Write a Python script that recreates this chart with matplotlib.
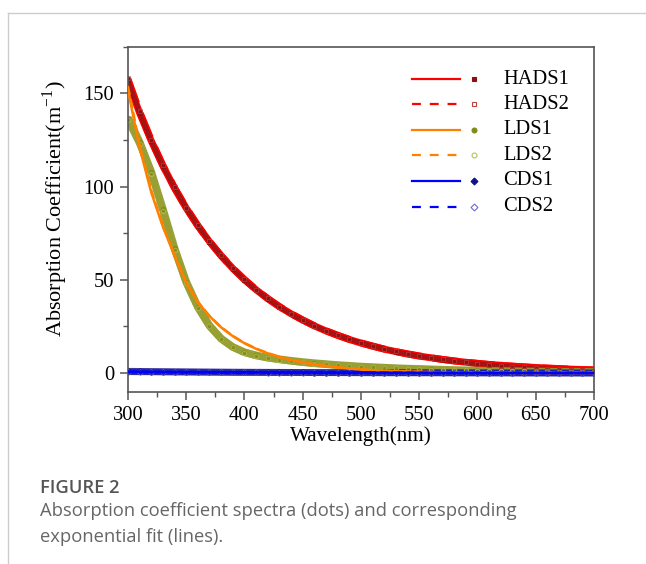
import matplotlib
matplotlib.use("Agg")
import matplotlib.pyplot as plt
from matplotlib.lines import Line2D
from matplotlib.ticker import MultipleLocator

# ---------------- data ----------------
wavelength = [300, 310, 320, 330, 340, 350, 360, 370, 380, 390,
              400, 410, 420, 430, 440, 450, 460, 470, 480, 490,
              500, 510, 520, 530, 540, 550, 560, 570, 580, 590,
              600, 610, 620, 630, 640, 650, 660, 670, 680, 690, 700]

hads1_data = [157.0, 139.5, 124.5, 111.0, 99.5, 88.5, 79.0, 70.5, 63.0, 56.0,
              50.0, 44.5, 39.8, 35.5, 31.6, 28.3, 25.3, 22.6, 20.2, 18.1,
              16.2, 14.5, 12.9, 11.5, 10.2, 9.1, 8.1, 7.2, 6.4, 5.7,
              5.0, 4.4, 3.9, 3.4, 3.0, 2.6, 2.3, 2.0, 1.7, 1.5, 1.2]
hads2_data = [158.5, 140.5, 125.0, 111.5, 99.8, 88.8, 79.3, 70.8, 63.2, 56.3,
              50.2, 44.7, 40.0, 35.7, 31.8, 28.4, 25.4, 22.7, 20.3, 18.2,
              16.3, 14.6, 13.0, 11.6, 10.3, 9.2, 8.2, 7.3, 6.5, 5.8,
              5.1, 4.5, 4.0, 3.5, 3.1, 2.7, 2.3, 2.0, 1.7, 1.5, 1.3]
hads1_fit = [156.5, 139.6, 124.6, 111.2, 99.2, 88.5, 79.0, 70.5, 62.9, 56.1,
             50.1, 44.7, 39.9, 35.6, 31.8, 28.4, 25.3, 22.6, 20.2, 18.0,
             16.1, 14.4, 12.8, 11.5, 10.2, 9.1, 8.2, 7.3, 6.5, 5.8,
             5.2, 4.6, 4.2, 3.7, 3.3, 3.0, 2.7, 2.4, 2.1, 1.9, 1.7]
hads2_fit = [157.8, 140.3, 125.0, 111.4, 99.4, 88.7, 79.1, 70.6, 63.0, 56.2,
             50.2, 44.8, 40.0, 35.7, 31.9, 28.5, 25.4, 22.7, 20.3, 18.1,
             16.2, 14.5, 12.9, 11.5, 10.3, 9.2, 8.2, 7.3, 6.5, 5.8,
             5.2, 4.6, 4.1, 3.7, 3.3, 2.9, 2.6, 2.3, 2.1, 1.8, 1.6]

lds1_data = [137.0, 124.0, 108.0, 88.0, 67.0, 49.0, 35.5, 25.5, 18.5, 14.0,
             11.2, 9.5, 8.3, 7.4, 6.6, 5.9, 5.3, 4.8, 4.3, 3.9,
             3.5, 3.2, 2.9, 2.6, 2.4, 2.2, 2.0, 1.8, 1.6, 1.5,
             1.4, 1.3, 1.2, 1.1, 1.0, 0.9, 0.9, 0.8, 0.8, 0.7, 0.7]
lds2_data = [135.5, 123.0, 107.0, 87.0, 66.0, 48.5, 35.0, 25.0, 18.2, 13.8,
             11.0, 9.3, 8.1, 7.2, 6.4, 5.7, 5.1, 4.6, 4.1, 3.7,
             3.3, 3.0, 2.7, 2.5, 2.3, 2.1, 1.9, 1.7, 1.5, 1.4,
             1.3, 1.2, 1.1, 1.0, 0.9, 0.8, 0.8, 0.7, 0.7, 0.6, 0.6]
lds1_fit = [152.0, 121.0, 97.0, 78.5, 63.0, 48.5, 38.0, 30.5, 24.5, 19.8,
            16.0, 13.0, 10.6, 8.6, 7.0, 5.7, 4.6, 3.7, 3.0, 2.4,
            1.9, 1.5, 1.2, 1.0, 0.8, 0.6, 0.5, 0.4, 0.3, 0.3,
            0.2, 0.2, 0.2, 0.1, 0.1, 0.1, 0.1, 0.1, 0.1, 0.1, 0.1]
lds2_fit = [154.0, 122.5, 98.0, 79.0, 63.3, 48.7, 38.2, 30.6, 24.6, 19.9,
            16.1, 13.1, 10.7, 8.7, 7.1, 5.8, 4.7, 3.8, 3.1, 2.5,
            2.0, 1.6, 1.3, 1.0, 0.8, 0.7, 0.5, 0.4, 0.3, 0.3,
            0.2, 0.2, 0.2, 0.1, 0.1, 0.1, 0.1, 0.1, 0.1, 0.1, 0.1]

cds1_data = [0.9, 0.85, 0.8, 0.75, 0.7, 0.65, 0.6, 0.55, 0.5, 0.45,
             0.42, 0.4, 0.37, 0.35, 0.32, 0.3, 0.28, 0.26, 0.24, 0.22,
             0.2, 0.18, 0.17, 0.16, 0.15, 0.14, 0.13, 0.12, 0.11, 0.1,
             0.09, 0.08, 0.07, 0.06, 0.05, 0.04, 0.04, 0.03, 0.03, 0.02, 0.02]
cds2_data = [0.6, 0.57, 0.54, 0.51, 0.48, 0.45, 0.42, 0.4, 0.37, 0.35,
             0.33, 0.31, 0.29, 0.27, 0.25, 0.23, 0.21, 0.2, 0.19, 0.18,
             0.16, 0.15, 0.14, 0.13, 0.12, 0.11, 0.1, 0.09, 0.08, 0.07,
             0.06, 0.05, 0.05, 0.04, 0.04, 0.03, 0.03, 0.02, 0.02, 0.01, 0.01]
cds1_fit = [0.75, 0.71, 0.67, 0.63, 0.6, 0.56, 0.53, 0.5, 0.47, 0.44,
            0.41, 0.39, 0.36, 0.34, 0.32, 0.3, 0.28, 0.26, 0.24, 0.22,
            0.21, 0.19, 0.18, 0.17, 0.15, 0.14, 0.13, 0.12, 0.11, 0.1,
            0.09, 0.09, 0.08, 0.07, 0.07, 0.06, 0.06, 0.05, 0.05, 0.04, 0.04]
cds2_fit = [0.55, 0.52, 0.5, 0.47, 0.44, 0.42, 0.4, 0.38, 0.36, 0.34,
            0.32, 0.3, 0.28, 0.27, 0.25, 0.24, 0.22, 0.21, 0.2, 0.19,
            0.18, 0.17, 0.16, 0.15, 0.14, 0.13, 0.12, 0.11, 0.1, 0.1,
            0.09, 0.09, 0.08, 0.08, 0.07, 0.07, 0.06, 0.06, 0.05, 0.05, 0.05]

labels = ["HADS1", "HADS2", "LDS1", "LDS2", "CDS1", "CDS2"]
x_ticks = [300, 350, 400, 450, 500, 550, 600, 650, 700]
y_ticks = [0, 50, 100, 150]

# ---------------- style ----------------
plt.rcParams['font.family'] = ['Liberation Serif', 'DejaVu Serif']
plt.rcParams['mathtext.fontset'] = 'stix'

fig = plt.figure(figsize=(6.46, 5.64), dpi=100)
ax = fig.add_axes([0.198, 0.3055, 0.7215, 0.6115])

data_series = [hads1_data, hads2_data, lds1_data, lds2_data, cds1_data, cds2_data]
fit_series = [hads1_fit, hads2_fit, lds1_fit, lds2_fit, cds1_fit, cds2_fit]
data_colors = ["#8b1010", "#c04040", "#7f8a10", "#b8c060", "#10108a", "#6a6ad0"]
band_colors = ["#8b1010", "#a01818", "#7f8a10", "#9aa030", "#10108a", "#2020b0"]
band_widths = [3.0, 2.5, 5.5, 5.0, 5.0, 4.5]
marker_sizes = [2.5, 2.5, 3.2, 3.2, 3.2, 3.2]
markers = ["s", "s", "o", "o", "D", "D"]
filled = [True, False, True, False, True, False]
fit_colors = ["#ff0000", "#ff0000", "#ff8000", "#ff8000", "#0000ff", "#0000ff"]
fit_styles = ["-", "--", "-", "--", "-", "--"]
fit_widths = [5.0, 5.0, 1.8, 1.8, 1.8, 1.8]
fit_z = [1.5, 1.5, 3, 3, 3, 3]

# data (dots)
for ys, bc, bw, dc, m, ms, f in zip(data_series, band_colors, band_widths,
                                    data_colors, markers, marker_sizes, filled):
    ax.plot(wavelength, ys, color=bc, lw=bw, alpha=0.8, solid_capstyle='butt', zorder=2)
    ax.plot(wavelength, ys, ls='none', marker=m, ms=ms,
            markerfacecolor=dc if f else 'none', markeredgecolor=dc,
            markeredgewidth=0.7, alpha=0.7, zorder=2.5)

# fits (lines)
for ys, fc, st, fw, z in zip(fit_series, fit_colors, fit_styles, fit_widths, fit_z):
    ax.plot(wavelength, ys, color=fc, ls=st, lw=fw, zorder=z)

ax.set_xlim(300, 700)
ax.set_ylim(-10, 175)
ax.set_xticks(x_ticks)
ax.set_yticks(y_ticks)
ax.xaxis.set_minor_locator(MultipleLocator(25))
ax.yaxis.set_minor_locator(MultipleLocator(25))
ax.tick_params(which='major', direction='out', length=6, width=1.1,
               color='#555555', labelsize=14.8, pad=4)
ax.tick_params(which='minor', direction='out', length=3.5, width=1.0, color='#555555')
for s in ax.spines.values():
    s.set_color('#555555')
    s.set_linewidth(1.2)

ax.set_xlabel("Wavelength(nm)", fontsize=15.2, labelpad=1)
ax.set_ylabel(r"Absorption Coefficient(m$^{\mathregular{-1}}$)", fontsize=16, labelpad=-1)
ax.yaxis.set_label_coords(-0.125, 0.53)

# legend (line sample, marker sample, label)
leg_rows_y = [0.906, 0.834, 0.759, 0.686, 0.611, 0.536]
for yy, lab, fc, st, dc, m, f in zip(leg_rows_y, labels, fit_colors, fit_styles,
                                     data_colors, markers, filled):
    ax.add_line(Line2D([0.609, 0.712], [yy, yy], transform=ax.transAxes,
                       color=fc, ls=st, lw=1.6, dashes=(4, 4) if st == '--' else (None, None)))
    ax.add_line(Line2D([0.742], [yy], transform=ax.transAxes, ls='none',
                       marker=m, ms=3.5, markerfacecolor=dc if f else 'none',
                       markeredgecolor=dc, markeredgewidth=0.8))
    ax.text(0.805, yy, lab, transform=ax.transAxes, fontsize=14.8,
            va='center', ha='left')

# page frame lines
fig.add_artist(Line2D([8 / 646, 1.0], [1 - 13 / 564, 1 - 13 / 564],
                      transform=fig.transFigure, color='#cccccc', lw=1))
fig.add_artist(Line2D([8 / 646, 8 / 646], [0.0, 1 - 13 / 564],
                      transform=fig.transFigure, color='#cccccc', lw=1))

# caption
fig.text(40 / 646, 1 - 488 / 564, "FIGURE 2", fontsize=13.2, color='#555555',
         fontweight='semibold', family=['Open Sans', 'DejaVu Sans'], va='center')
fig.text(40 / 646, 1 - 511 / 564,
         "Absorption coefficient spectra (dots) and corresponding",
         fontsize=13.2, color='#666666', family=['Open Sans', 'DejaVu Sans'], va='center')
fig.text(40 / 646, 1 - 537 / 564, "exponential fit (lines).",
         fontsize=13.2, color='#666666', family=['Open Sans', 'DejaVu Sans'], va='center')

fig.savefig("out.png", dpi=100)
